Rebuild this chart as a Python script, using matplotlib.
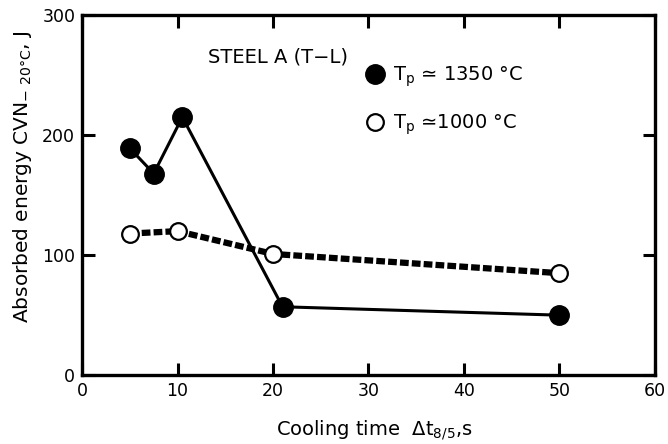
import matplotlib
matplotlib.use("Agg")
import matplotlib.pyplot as plt

plt.rcParams['font.family'] = ['DejaVu Sans']
plt.rcParams['mathtext.fontset'] = 'dejavusans'

# Charpy energy vs cooling time, steel A (T-L)
t_1350 = [5, 7.5, 10.5, 21, 50]
cvn_1350 = [189, 168, 215, 57, 50]

t_1000 = [5, 10, 20, 50]
cvn_1000 = [118, 120, 101, 85]

x_ticks = [0, 10, 20, 30, 40, 50, 60]
y_ticks = [0, 100, 200, 300]

fig = plt.figure(figsize=(6.68, 4.44), dpi=100)
ax = fig.add_axes([0.123, 0.155, 0.857, 0.811])

ax.plot(t_1000, cvn_1000, color='black', lw=4.5, dashes=(1.4, 0.5),
        dash_capstyle='butt', marker='o', ms=12, mfc='white', mec='black',
        mew=1.6, label='T$_\\mathregular{p}$ ≃1000 °C', zorder=3)
ax.plot(t_1350, cvn_1350, color='black', lw=2.2, marker='o', ms=14,
        mfc='black', mec='black', label='T$_\\mathregular{p}$ ≃ 1350 °C',
        zorder=4)

ax.set_xlim(0, 60)
ax.set_ylim(0, 300)
ax.set_xticks(x_ticks)
ax.set_yticks(y_ticks)
ax.tick_params(direction='in', length=9, width=2.2, labelsize=12.5,
               top=True, right=True, pad=5)
for s in ax.spines.values():
    s.set_linewidth(2.4)

ax.set_xlabel('Cooling time  $\\Delta$t$_\\mathregular{8/5}$,s', fontsize=14)
ax.xaxis.set_label_coords(0.51, -0.12)
ax.set_ylabel('Absorbed energy CVN$_\\mathregular{-\\ 20°C}$, J', fontsize=14.5)
ax.yaxis.set_label_coords(-0.084, 0.55)

ax.text(13.2, 265, 'STEEL A (T−L)', fontsize=14, va='center')

h, l = ax.get_legend_handles_labels()
ax.legend(h[::-1], l[::-1], loc='upper left', bbox_to_anchor=(0.485, 0.885),
          frameon=False, fontsize=14, handlelength=0.8, handletextpad=0.5,
          labelspacing=1.2, borderaxespad=0)

fig.savefig('out.png', dpi=100)
